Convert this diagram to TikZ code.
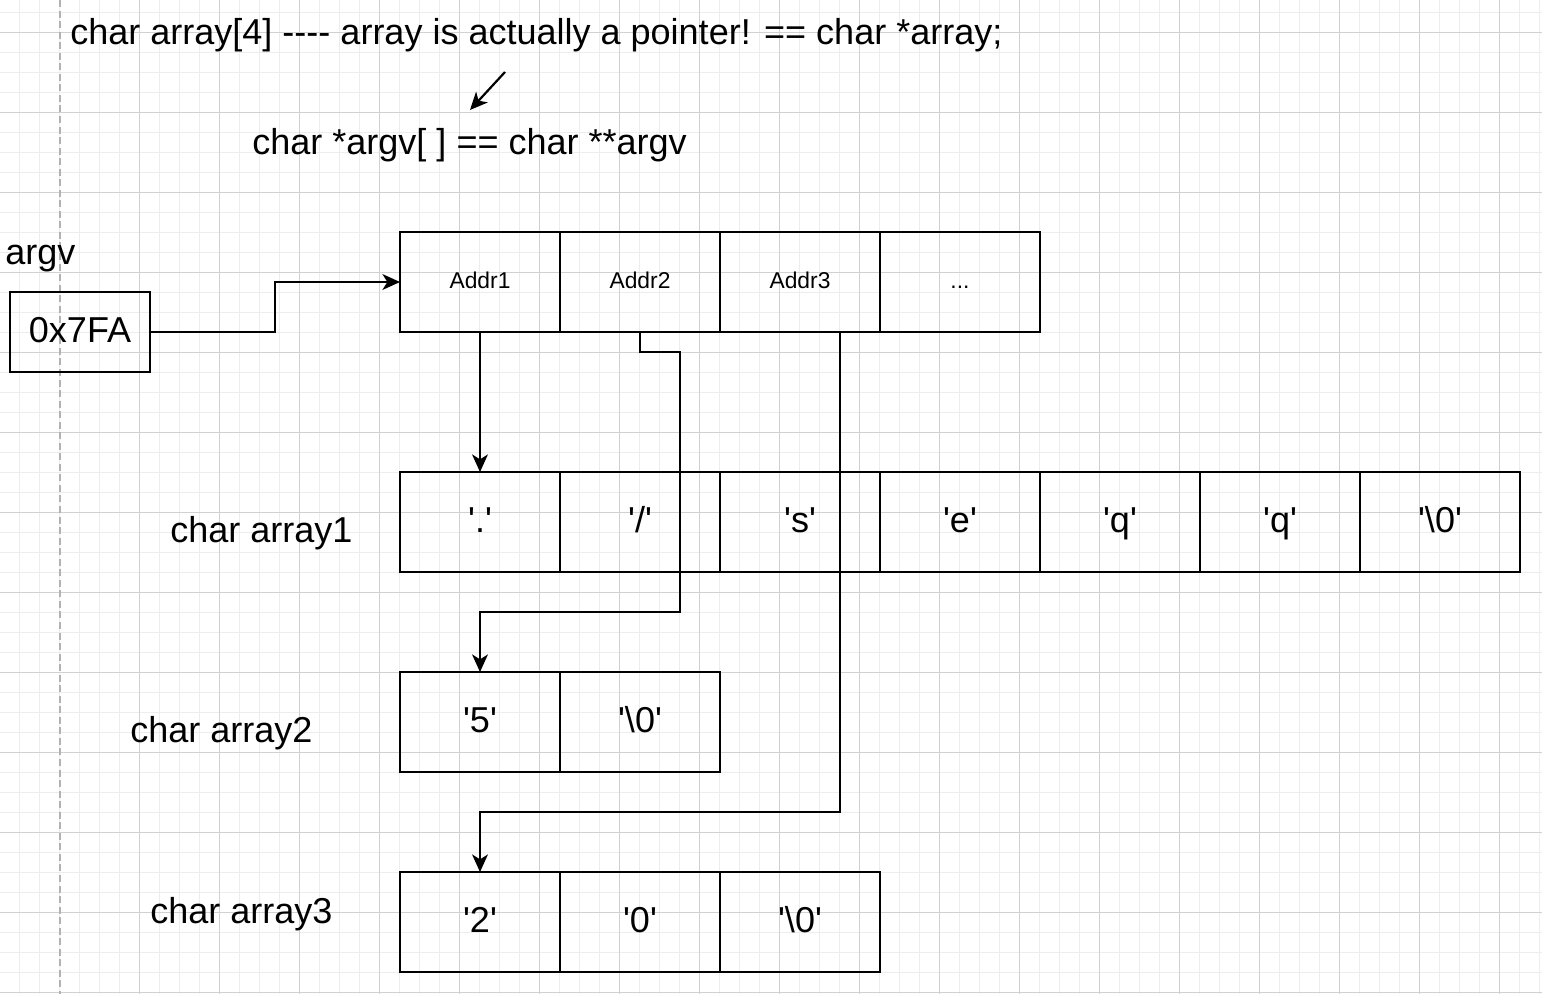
\documentclass[tikz,border=0pt]{standalone}
\usepackage{fontspec}
\newfontfamily\drawfont{Liberation Sans}
\usetikzlibrary{arrows.meta}
\tikzstyle{arrow} = [
  line width=1.25pt,
  -{Stealth[length=10pt, width=9pt, inset=2.8pt]},
  black
]
\tikzstyle{cell} = [
  rectangle,
  minimum width=3.2cm,
  minimum height=2cm,
  inner sep=0pt,
  outer sep=0pt,
  text height=15pt,
  text depth=3pt,
  line width=1.25pt,
  draw=black,
  font=\drawfont\fontsize{20.5}{24}\selectfont
]
\tikzstyle{addr} = [
  cell,
  text height=9pt,
  text depth=2pt,
  font=\drawfont\fontsize{13}{15}\selectfont
]
\tikzstyle{ptrbox} = [
  cell,
  minimum width=2.8cm,
  minimum height=1.6cm,
  text height=14.5pt,
  text depth=2.5pt
]
\tikzstyle{words} = [
  inner sep=0pt,
  anchor=base west,
  font=\drawfont\fontsize{20.5}{24}\selectfont
]
\tikzstyle{gridminor} = [line width=0.5pt, black!7]
\tikzstyle{gridmajor} = [line width=0.5pt, black!18]
\tikzstyle{pagebreak} = [line width=0.6pt, black!30, dash pattern=on 4pt off 2pt]

\begin{document}
\begin{tikzpicture}[x=0.02cm, y=-0.02cm]
    \useasboundingbox (0,0) rectangle (1542,994);
    \fill[white] (0,0) rectangle (1542,994);
    % background grid
    \foreach \gx in {19,39,...,1539} \draw[gridminor] (\gx,0) -- (\gx,994);
    \foreach \gy in {12,32,...,992} \draw[gridminor] (0,\gy) -- (1542,\gy);
    \foreach \gx in {139,219,...,1539} \draw[gridmajor] (\gx,0) -- (\gx,994);
    \foreach \gy in {32,112,...,992} \draw[gridmajor] (0,\gy) -- (1542,\gy);
    \draw[pagebreak] (60,0) -- (60,994);

    \node[words] (T) at (70,44) {char array[4] ---- array is actually a pointer! == char *array;};
    \node[words] (S) at (252,154) {char *argv[ ] == char **argv};
    \coordinate (ttail) at (505,72);
    \coordinate (thead) at (470,110);
    \draw[arrow] (ttail) -- (thead);

    \node[words] (N) at (5,264) {argv};
    \node[ptrbox] (P) at (80,332) {0x7FA};

    \node[addr] (A1) at (480,282) {Addr1};
    \node[addr] (A2) at (640,282) {Addr2};
    \node[addr] (A3) at (800,282) {Addr3};
    \node[addr] (A4) at (960,282) {...};

    \node[words] (L1) at (170,542) {char array1};
    \node[cell] (C1) at (480,522) {'.'};
    \node[cell] (C2) at (640,522) {'/'};
    \node[cell] (C3) at (800,522) {'s'};
    \node[cell] (C4) at (960,522) {'e'};
    \node[cell] (C5) at (1120,522) {'q'};
    \node[cell] (C6) at (1280,522) {'q'};
    \node[cell] (C7) at (1440,522) {'\textbackslash0'};

    \node[words] (L2) at (130,742) {char array2};
    \node[cell] (D1) at (480,722) {'5'};
    \node[cell] (D2) at (640,722) {'\textbackslash0'};

    \node[words] (L3) at (150,923) {char array3};
    \node[cell] (E1) at (480,922) {'2'};
    \node[cell] (E2) at (640,922) {'0'};
    \node[cell] (E3) at (800,922) {'\textbackslash0'};

    \draw[arrow] (P.east) -- ++(125,0) |- (A1.west);
    \draw[arrow] (A1.south) -- (C1.north);
    \draw[arrow] (A2.south) -- ++(0,20) -- ++(40,0) -- ++(0,260) -| (D1.north);
    \draw[arrow] ([xshift=0.8cm]A3.south) -- ++(0,480) -| (E1.north);
  \end{tikzpicture}
\end{document}
